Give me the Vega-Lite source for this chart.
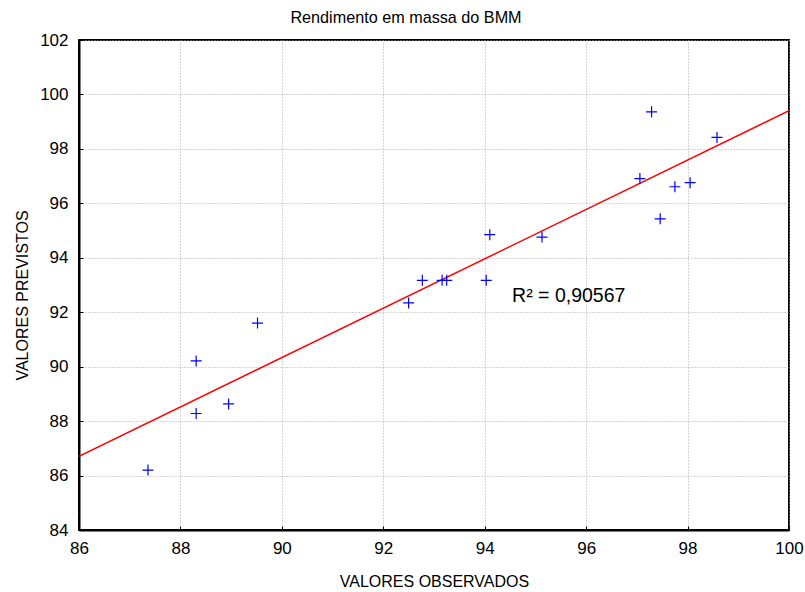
{
  "$schema": "https://vega.github.io/schema/vega-lite/v6.json",
  "width": 710,
  "height": 490,
  "autosize": {"type": "none"},
  "padding": {"left": 79, "top": 40, "right": 16, "bottom": 62},
  "background": "white",
  "title": {"text": "Rendimento em massa do BMM", "font": "Liberation Sans", "fontSize": 16.2, "fontWeight": "normal", "color": "black", "offset": 5, "anchor": "middle", "dx": -28},
  "config": {
    "view": {"stroke": "black", "strokeWidth": 2},
    "axis": {
      "labelFont": "Liberation Sans", "labelFontSize": 17, "labelColor": "black", "labelFlush": false, "labelOverlap": false,
      "titleFont": "Liberation Sans", "titleFontSize": 16, "titleFontWeight": "normal", "titleColor": "black",
      "domainColor": "black", "domainWidth": 2,
      "tickColor": "black", "tickWidth": 1,
      "gridColor": "#aaaaaa", "gridDash": [1, 2], "gridWidth": 1
    }
  },
  "datasets": {
    "pts": [
      {"obs": 87.36, "prev": 86.20},
      {"obs": 88.31, "prev": 90.21},
      {"obs": 88.31, "prev": 88.28},
      {"obs": 88.95, "prev": 88.63},
      {"obs": 89.52, "prev": 91.60},
      {"obs": 92.50, "prev": 92.34},
      {"obs": 92.77, "prev": 93.17},
      {"obs": 93.16, "prev": 93.17},
      {"obs": 93.25, "prev": 93.17},
      {"obs": 94.03, "prev": 93.17},
      {"obs": 94.10, "prev": 94.85},
      {"obs": 95.13, "prev": 94.76},
      {"obs": 97.06, "prev": 96.91},
      {"obs": 97.29, "prev": 99.36},
      {"obs": 97.46, "prev": 95.43},
      {"obs": 97.75, "prev": 96.61},
      {"obs": 98.05, "prev": 96.76},
      {"obs": 98.58, "prev": 98.42}
    ],
    "fit": [
      {"obs": 86, "prev": 86.71},
      {"obs": 100, "prev": 99.40}
    ],
    "note": [
      {"obs": 94.54, "prev": 92.38, "label": "R² = 0,90567"}
    ]
  },
  "layer": [
    {
      "data": {"name": "fit"},
      "mark": {"type": "line", "color": "#ff0000", "strokeWidth": 1.5, "clip": true},
      "encoding": {
        "x": {"field": "obs", "type": "quantitative", "scale": {"domain": [86, 100], "nice": false, "zero": false}},
        "y": {"field": "prev", "type": "quantitative", "scale": {"domain": [84, 102], "nice": false, "zero": false}}
      }
    },
    {
      "data": {"name": "pts"},
      "mark": {"type": "point", "shape": "M-1,0L1,0M0,-1L0,1", "filled": false, "color": "#0000ff", "strokeWidth": 1.2, "size": 121, "opacity": 1},
      "encoding": {
        "x": {"field": "obs", "type": "quantitative",
          "axis": {"orient": "bottom", "title": "VALORES OBSERVADOS", "titlePadding": 17, "grid": true,
            "values": [86,88,90,92,94,96,98,100],
            "labelPadding": 14, "tickSize": -4}},
        "y": {"field": "prev", "type": "quantitative",
          "axis": {"orient": "left", "title": "VALORES PREVISTOS", "titleX": -57, "titleY": 255, "titleAngle": -90, "titleBaseline": "middle", "titleAlign": "center", "grid": true,
            "values": [84,86,88,90,92,94,96,98,100,102],
            "labelPadding": 15, "tickSize": -4}}
      }
    },
    {
      "data": {"name": "note"},
      "mark": {"type": "text", "font": "Liberation Sans", "fontSize": 19.5, "color": "black", "align": "left", "baseline": "alphabetic"},
      "encoding": {
        "x": {"field": "obs", "type": "quantitative"},
        "y": {"field": "prev", "type": "quantitative"},
        "text": {"field": "label"}
      }
    }
  ]
}
